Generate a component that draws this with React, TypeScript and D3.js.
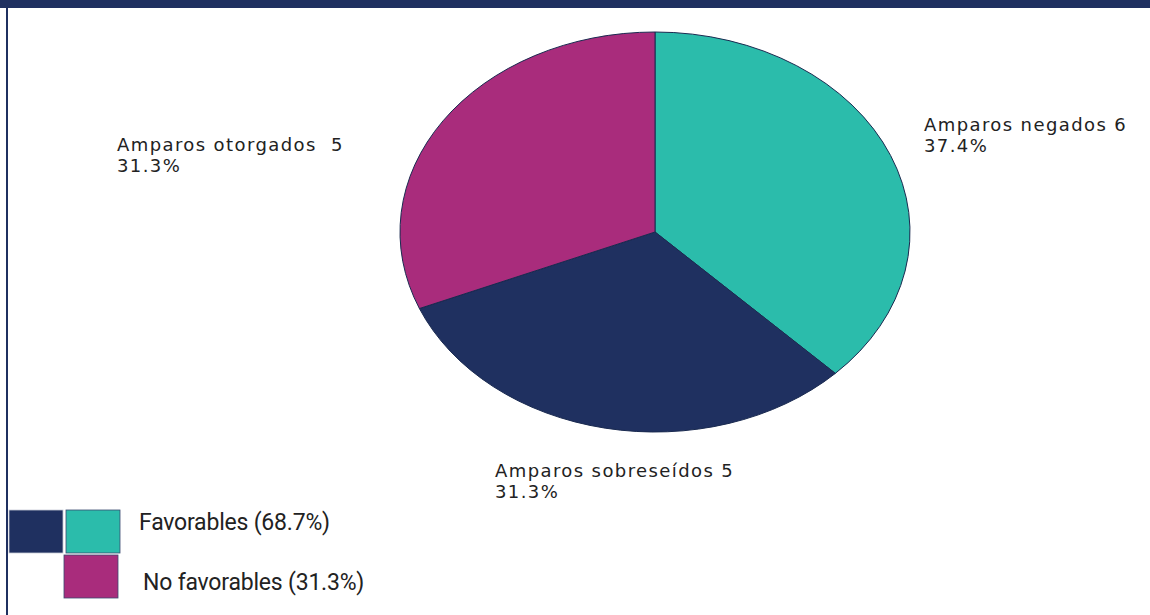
import React from "react";
import * as d3 from "d3";

const categories = ["Amparos negados", "Amparos sobreseídos", "Amparos otorgados"];
const values = [6, 5, 5];
const percentLabels = ["37.4%", "31.3%", "31.3%"];
const countLabels = ["6", "5", " 5"];
const colors = ["#2bbcab", "#1f3060", "#a92c7c"];
const legendLabels = ["Favorables (68.7%)", "No favorables (31.3%)"];

const W = 1150;
const H = 615;
const cx = 655;
const cy = 232;
const rx = 255;
const ry = 200;

const labelPos: [number, number][] = [
  [924, 131],
  [495, 477],
  [117, 151],
];

export default function App() {
  const pie = d3.pie<number>().sort(null).value((d) => d);
  const arcs = pie(values);
  const arc = d3.arc<d3.PieArcDatum<number>>().innerRadius(0).outerRadius(ry);
  const navy = "#1f3060";
  return (
    <svg
      width={W}
      height={H}
      style={{ position: "absolute", left: 0, top: 0, background: "#fff" }}
    >
      <rect x={0} y={0} width={W} height={8} fill={navy} />
      <rect x={6} y={0} width={2} height={H} fill={navy} />
      <g transform={`translate(${cx},${cy}) scale(${rx / ry},1)`}>
        {arcs.map((a, i) => (
          <path
            key={i}
            d={arc(a) || ""}
            fill={colors[i]}
            stroke="#1a2a50"
            strokeWidth={1}
            vectorEffect="non-scaling-stroke"
          />
        ))}
      </g>
      {categories.map((c, i) => (
        <text
          key={c}
          x={labelPos[i][0]}
          y={labelPos[i][1]}
          fontFamily="DejaVu Sans, sans-serif"
          fontSize={18}
          letterSpacing={1.4}
          fill="#222"
          style={{ whiteSpace: "pre" }}
        >
          <tspan x={labelPos[i][0]}>{`${c} ${countLabels[i]}`}</tspan>
          <tspan x={labelPos[i][0]} dy={21}>
            {percentLabels[i]}
          </tspan>
        </text>
      ))}
      <rect x={9} y={510} width={54} height={43} fill={navy} stroke="#c8ccd8" strokeWidth={0.8} />
      <rect x={66} y={510} width={54} height={43} fill={colors[0]} stroke="#3a4a70" strokeWidth={0.8} />
      <rect x={64} y={555} width={54} height={43} fill={colors[2]} stroke="#3a4a70" strokeWidth={0.8} />
      <text x={139} y={530} fontFamily="Roboto, sans-serif" fontSize={23} fill="#222" letterSpacing={-0.2}>
        {legendLabels[0]}
      </text>
      <text x={143} y={590} fontFamily="Roboto, sans-serif" fontSize={23} fill="#222" letterSpacing={-0.2}>
        {legendLabels[1]}
      </text>
    </svg>
  );
}
